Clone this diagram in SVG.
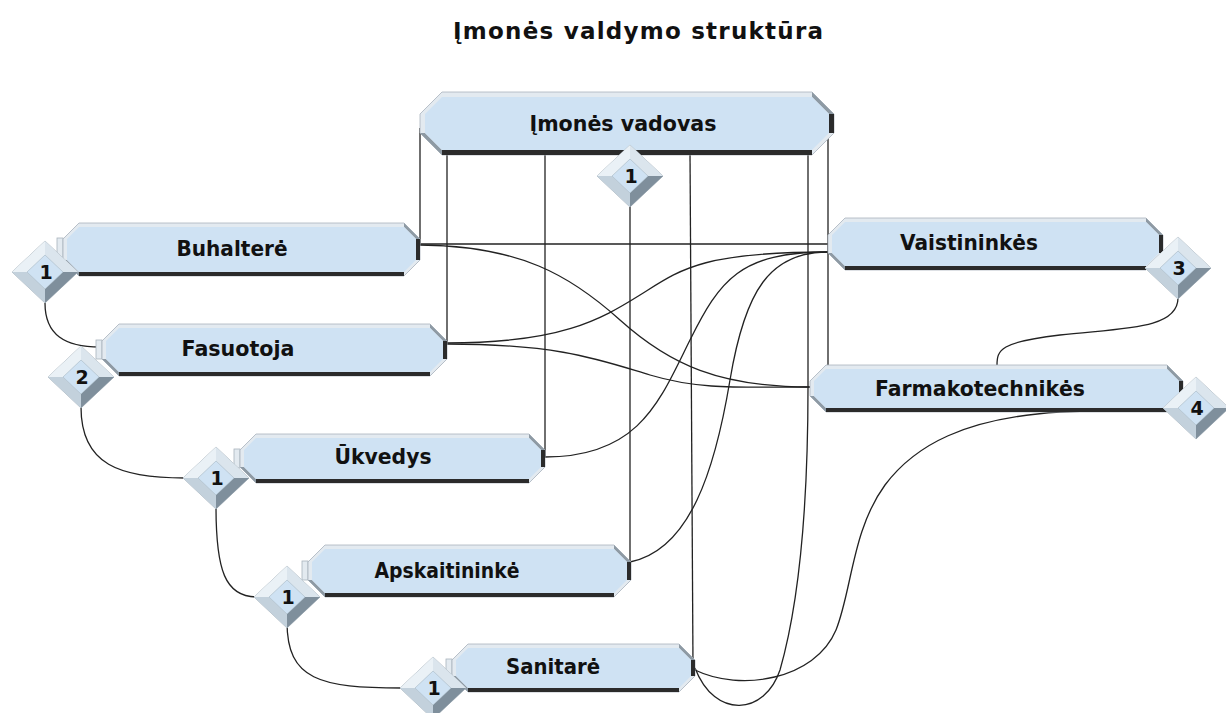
<svg xmlns="http://www.w3.org/2000/svg" xmlns:xlink="http://www.w3.org/1999/xlink" width="1226" height="713" viewBox="0 0 1226 713">
<style>
.conn{fill:none;stroke:#222;stroke-width:1.3}
.outer{fill:#e3eaf0;stroke:#a9b3bc;stroke-width:0.8}
.inner{fill:#cfe2f3}
.gray{fill:#8e9aa4}
.dark{fill:#2b2b2b}
.step{fill:#e3eaf0;stroke:#a9b3bc;stroke-width:0.8}
.lbl{font-family:"DejaVu Sans","Liberation Sans",sans-serif;font-weight:bold;font-size:21px;fill:#111;text-anchor:middle}
.num{font-family:"DejaVu Sans","Liberation Sans",sans-serif;font-weight:bold;font-size:19px;fill:#111;text-anchor:middle}
.title{font-family:"DejaVu Sans","Liberation Sans",sans-serif;font-weight:bold;font-size:23px;fill:#111;text-anchor:middle}
</style>
<defs>
<g id="dia">
<polygon points="0,-31 33,0 0,31 -33,0" fill="#e3eaf0" stroke="#a7b2bb" stroke-width="0.8"/>
<polygon points="-33,0 0,-31 0,-17 -18,0" fill="#eaf1f6"/>
<polygon points="0,-31 33,0 18,0 0,-17" fill="#dbe5ed"/>
<polygon points="33,0 0,31 0,17 18,0" fill="#7f8f9c"/>
<polygon points="0,31 -33,0 -18,0 0,17" fill="#c3d1dc"/>
<polygon points="0,-17 18,0 0,17 -18,0" fill="#cfe2f3" stroke="#9fb0bd" stroke-width="0.5"/>
</g>
</defs>
<rect width="1226" height="713" fill="#ffffff"/>
<text class="title" x="638" y="39" textLength="370" lengthAdjust="spacing">Įmonės valdymo struktūra</text>

<g id="connectors">
<path class="conn" d="M420,243 V128"/>
<path class="conn" d="M447,343 V152"/>
<path class="conn" d="M545,457 V152"/>
<path class="conn" d="M630,562 V205"/>
<path class="conn" d="M693,665 L690,152"/>
<path class="conn" d="M808,152 V387"/>
<path class="conn" d="M828,120 V365"/>
<path class="conn" d="M420,244 H828"/>
<path class="conn" d="M420,245 C520,246 570,275 620,320 S720,387 810,387"/>
<path class="conn" d="M447,343 C560,343 600,320 640,295 S700,252 828,252"/>
<path class="conn" d="M447,344 C560,344 600,360 650,375 S740,387 810,387"/>
<path class="conn" d="M545,457 C640,457 660,400 690,340 S740,252 828,252"/>
<path class="conn" d="M630,562 C690,550 715,470 730,380 S770,252 828,252"/>
<path class="conn" d="M808,387 C808,500 800,600 780,670 C765,715 715,720 695,668"/>
<path class="conn" d="M695,670 C740,692 815,680 836,630 C852,590 852,530 885,485 C915,445 965,418 1060,412 L1165,408"/>
<path class="conn" d="M1178,298 C1178,330 1120,328 1060,335 C1000,342 997,350 997,365"/>
<path class="conn" d="M45,303 C45,335 65,347 100,347"/>
<path class="conn" d="M81,407 C81,465 120,478 185,478"/>
<path class="conn" d="M216,507 C216,570 225,597 257,597"/>
<path class="conn" d="M287,622 C287,680 320,688 402,688"/>
</g>

<g id="node-vadovas">
<polygon class="outer" points="420,114 442,92 812,92 834,114 834,133 812,155 442,155 420,133"/>
<polygon class="gray" points="812,92 834,114 829,114 812,97"/>
<polygon class="dark" points="834,114 834,133 829,133 829,114"/>
<polygon class="dark" points="812,155 442,155 442,150 812,150"/>
<polygon class="gray" points="442,155 420,133 425,133 442,150"/>
<polygon class="inner" points="425,114 442,97 812,97 829,114 829,133 812,150 442,150 425,133"/>
<text class="lbl" x="623" y="131" textLength="187" lengthAdjust="spacingAndGlyphs">Įmonės vadovas</text>
<use xlink:href="#dia" href="#dia" x="630" y="176"/>
<text class="num" x="631" y="183">1</text>
</g>

<g id="node-buhaltere">
<rect class="step" x="57" y="238" width="6" height="22"/>
<polygon class="outer" points="63,239 79,223 404,223 420,239 420,260 404,276 79,276 63,260"/>
<polygon class="gray" points="404,223 420,239 416,239 404,227"/>
<polygon class="dark" points="420,239 420,260 416,260 416,239"/>
<polygon class="dark" points="404,276 79,276 79,272 404,272"/>
<polygon class="gray" points="79,276 63,260 67,260 79,272"/>
<polygon class="inner" points="67,239 79,227 404,227 416,239 416,260 404,272 79,272 67,260"/>
<text class="lbl" x="232" y="256" textLength="111" lengthAdjust="spacingAndGlyphs">Buhalterė</text>
<use xlink:href="#dia" href="#dia" x="45" y="272"/>
<text class="num" x="46" y="279">1</text>
</g>

<g id="node-fasuotoja">
<rect class="step" x="96" y="340" width="6" height="19"/>
<polygon class="outer" points="102,341 119,324 430,324 447,341 447,359 430,376 119,376 102,359"/>
<polygon class="gray" points="430,324 447,341 443,341 430,328"/>
<polygon class="dark" points="447,341 447,359 443,359 443,341"/>
<polygon class="dark" points="430,376 119,376 119,372 430,372"/>
<polygon class="gray" points="119,376 102,359 106,359 119,372"/>
<polygon class="inner" points="106,341 119,328 430,328 443,341 443,359 430,372 119,372 106,359"/>
<text class="lbl" x="238" y="356" textLength="113" lengthAdjust="spacingAndGlyphs">Fasuotoja</text>
<use xlink:href="#dia" href="#dia" x="81" y="377"/>
<text class="num" x="82" y="384">2</text>
</g>

<g id="node-vaistininkes">
<polygon class="outer" points="828,235 845,218 1146,218 1163,235 1163,253 1146,270 845,270 828,253"/>
<polygon class="gray" points="1146,218 1163,235 1159,235 1146,222"/>
<polygon class="dark" points="1163,235 1163,253 1159,253 1159,235"/>
<polygon class="dark" points="1146,270 845,270 845,266 1146,266"/>
<polygon class="gray" points="845,270 828,253 832,253 845,266"/>
<polygon class="inner" points="832,235 845,222 1146,222 1159,235 1159,253 1146,266 845,266 832,253"/>
<text class="lbl" x="969" y="250" textLength="138" lengthAdjust="spacingAndGlyphs">Vaistininkės</text>
<use xlink:href="#dia" href="#dia" x="1178" y="268"/>
<text class="num" x="1179" y="275">3</text>
</g>

<g id="node-farmakotechnikes">
<polygon class="outer" points="810,381 826,365 1167,365 1183,381 1183,396 1167,412 826,412 810,396"/>
<polygon class="gray" points="1167,365 1183,381 1179,381 1167,369"/>
<polygon class="dark" points="1183,381 1183,396 1179,396 1179,381"/>
<polygon class="dark" points="1167,412 826,412 826,408 1167,408"/>
<polygon class="gray" points="826,412 810,396 814,396 826,408"/>
<polygon class="inner" points="814,381 826,369 1167,369 1179,381 1179,396 1167,408 826,408 814,396"/>
<text class="lbl" x="980" y="396" textLength="210" lengthAdjust="spacingAndGlyphs">Farmakotechnikės</text>
<use xlink:href="#dia" href="#dia" x="1196" y="408"/>
<text class="num" x="1197" y="415">4</text>
</g>

<g id="node-ukvedys">
<rect class="step" x="234" y="449" width="6" height="19"/>
<polygon class="outer" points="240,450 256,434 529,434 545,450 545,467 529,483 256,483 240,467"/>
<polygon class="gray" points="529,434 545,450 541,450 529,438"/>
<polygon class="dark" points="545,450 545,467 541,467 541,450"/>
<polygon class="dark" points="529,483 256,483 256,479 529,479"/>
<polygon class="gray" points="256,483 240,467 244,467 256,479"/>
<polygon class="inner" points="244,450 256,438 529,438 541,450 541,467 529,479 256,479 244,467"/>
<text class="lbl" x="383" y="464" textLength="97" lengthAdjust="spacingAndGlyphs">Ūkvedys</text>
<use xlink:href="#dia" href="#dia" x="216" y="478"/>
<text class="num" x="217" y="485">1</text>
</g>

<g id="node-apskaitininke">
<rect class="step" x="302" y="561" width="6" height="19"/>
<polygon class="outer" points="308,562 325,545 614,545 631,562 631,580 614,597 325,597 308,580"/>
<polygon class="gray" points="614,545 631,562 627,562 614,549"/>
<polygon class="dark" points="631,562 631,580 627,580 627,562"/>
<polygon class="dark" points="614,597 325,597 325,593 614,593"/>
<polygon class="gray" points="325,597 308,580 312,580 325,593"/>
<polygon class="inner" points="312,562 325,549 614,549 627,562 627,580 614,593 325,593 312,580"/>
<text class="lbl" x="447" y="578" textLength="145" lengthAdjust="spacingAndGlyphs">Apskaitininkė</text>
<use xlink:href="#dia" href="#dia" x="287" y="597"/>
<text class="num" x="288" y="604">1</text>
</g>

<g id="node-sanitare">
<rect class="step" x="446" y="659" width="6" height="18"/>
<polygon class="outer" points="452,660 468,644 679,644 695,660 695,676 679,692 468,692 452,676"/>
<polygon class="gray" points="679,644 695,660 691,660 679,648"/>
<polygon class="dark" points="695,660 695,676 691,676 691,660"/>
<polygon class="dark" points="679,692 468,692 468,688 679,688"/>
<polygon class="gray" points="468,692 452,676 456,676 468,688"/>
<polygon class="inner" points="456,660 468,648 679,648 691,660 691,676 679,688 468,688 456,676"/>
<text class="lbl" x="553" y="674" textLength="94" lengthAdjust="spacingAndGlyphs">Sanitarė</text>
<use xlink:href="#dia" href="#dia" x="433" y="688"/>
<text class="num" x="434" y="695">1</text>
</g>
</svg>
